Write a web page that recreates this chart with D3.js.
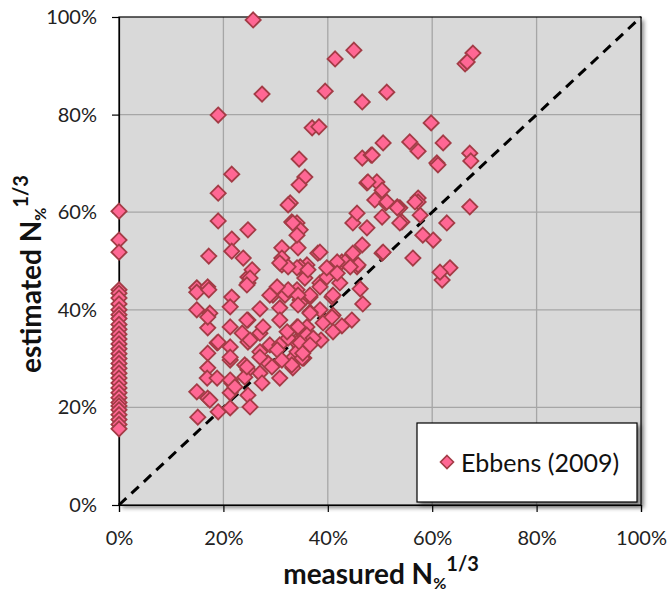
<!DOCTYPE html>
<html>
<head>
<meta charset="utf-8">
<script src="https://cdn.jsdelivr.net/npm/d3@7"></script>
<style>
  html, body { margin: 0; padding: 0; background: #fff; }
  svg { display: block; font-family: Lato, "Open Sans", sans-serif; }
</style>
</head>
<body>
<svg id="chart" width="671" height="596"></svg>
<script>
// Measured vs. estimated N% (cube-root transformed), in percent
const seriesName = "Ebbens (2009)";

const measured = [
  0, 0, 0, 0, 0, 0, 0, 0, 0, 0, 0, 0, 0, 0, 0, 0, 0, 0, 0, 0, 0, 0, 0, 0, 0, 0, 0, 0, 0, 0, 0, 0, 0,
  25.7, 27.4, 19.0, 39.5, 41.4, 45.0, 46.6, 51.3, 37.0, 38.3, 67.8, 66.3, 66.7,
  34.5, 35.6, 34.5, 21.6, 19.0, 46.6, 48.3, 50.6, 55.7, 57.3, 59.8, 62.1, 60.9, 61.1, 67.2, 67.4,
  47.5, 49.4, 50.4, 57.3,
  56.3, 61.9, 63.4, 61.5, 67.2, 62.8, 60.2, 58.2, 57.7, 57.3, 53.8, 54.2,
  50.4, 53.8, 53.3, 51.1, 47.5, 44.8, 45.6, 46.6, 50.4,
  46.2, 46.7, 44.6, 42.7, 41.0, 38.7, 35.4, 35.6, 38.5, 40.8, 45.6, 42.7, 40.6, 38.1, 35.6, 38.5,
  36.6, 34.7, 41.0, 34.7, 34.7, 36.0,
  32.8, 48.5, 47.7, 49.0, 51.3, 53.3, 56.7, 50.6, 44.8, 43.3, 38.5, 41.8, 34.1, 34.7, 34.3, 33.1,
  36.0, 34.7, 40.4, 45.8,
  39.8, 42.3, 33.3, 34.7, 36.6, 39.1, 34.1, 36.0, 34.1, 33.3, 41.0, 36.6, 34.1,
  19.0, 24.7, 21.6, 21.6, 23.8, 17.2, 32.4, 33.3, 34.1, 31.2, 31.2, 31.2, 34.1, 24.7, 24.7, 14.9, 17.0,
  14.9, 17.2, 21.6, 21.3, 14.9, 17.4, 17.0, 24.7, 27.0, 29.5, 31.8, 34.3, 30.8, 30.8, 34.3, 34.3,
  21.3, 23.6, 27.0, 24.7, 18.8, 17.0, 21.3, 21.3, 24.1, 27.0, 28.9, 30.8, 32.4, 28.5, 27.0, 24.7,
  30.8, 33.1, 34.1, 17.0, 16.9, 18.8, 14.9, 17.0, 21.6, 21.3, 24.1, 24.7, 25.1, 21.3, 19.0, 15.1,
  27.4, 35.1, 37.2, 40.8, 36.6, 32.4, 30.3, 28.9, 38.5, 39.8, 41.8, 44.3, 36.2, 32.4, 30.8,
  25.5, 25.1, 24.5, 17.0, 24.5, 27.6, 25.1, 19.0, 21.3, 17.4, 21.3, 24.5, 27.0, 30.3, 32.2, 34.7,
  29.3, 22.2, 31.2, 35.2, 36.6
];

const estimated = [
  60.2, 54.3, 51.8, 44.1, 43.4, 42.4, 41.2, 40.0, 39.0, 38.2, 37.0, 36.0, 35.0, 34.0, 33.0, 32.0, 31.0,
  30.0, 29.0, 28.0, 27.0, 26.0, 25.0, 24.0, 23.0, 22.0, 21.0, 20.3, 19.5, 18.5, 17.5, 16.5, 15.6,
  99.4, 84.2, 79.9, 84.8, 91.4, 93.2, 82.6, 84.6, 77.3, 77.5, 92.6, 90.4, 90.8,
  70.9, 67.2, 65.6, 67.8, 63.9, 71.1, 71.7, 74.2, 74.4, 72.5, 78.3, 74.2, 70.1, 69.7, 72.1, 70.5,
  66.0, 66.2, 64.5, 62.9,
  50.6, 46.1, 48.6, 47.7, 61.1, 57.8, 54.3, 55.3, 59.4, 62.1, 60.9, 58.0,
  59.0, 57.8, 61.1, 61.9, 56.8, 57.8, 59.8, 53.3, 51.6,
  44.3, 41.2, 37.9, 36.7, 35.5, 33.8, 30.1, 34.8, 40.0, 42.6, 48.8, 49.8, 48.2, 51.6, 46.5, 45.5,
  42.6, 42.0, 38.9, 34.4, 32.4, 36.5,
  61.9, 71.7, 66.2, 62.5, 62.1, 60.9, 62.1, 51.8, 51.6, 49.8, 51.8, 49.8, 57.8, 56.4, 52.7, 58.0,
  49.2, 48.8, 48.2, 49.2,
  46.7, 45.5, 28.1, 41.4, 39.5, 37.3, 36.5, 34.8, 33.2, 30.1, 43.0, 43.0, 44.1,
  58.2, 56.4, 54.5, 52.0, 50.6, 51.0, 61.5, 57.8, 55.3, 52.7, 50.6, 49.2, 48.6, 46.7, 45.5, 44.5, 44.7,
  43.6, 44.1, 42.6, 40.6, 40.0, 39.3, 36.3, 37.9, 40.2, 43.0, 43.0, 43.0, 40.4, 37.9, 41.0, 36.5,
  36.5, 35.2, 35.2, 33.4, 33.2, 31.1, 32.4, 29.7, 28.7, 31.4, 32.8, 32.8, 34.2, 29.1, 27.0, 27.7,
  26.0, 28.7, 31.4, 28.1, 26.0, 26.0, 23.2, 21.9, 25.0, 23.0, 26.2, 22.5, 20.1, 19.9, 19.1, 18.0,
  25.0, 30.1, 34.2, 38.5, 39.3, 44.1, 44.7, 43.0, 44.7, 48.6, 47.5, 48.8, 48.2, 48.8, 49.6,
  48.2, 46.5, 45.1, 38.5, 37.9, 36.5, 33.8, 33.4, 30.3, 21.5, 25.6, 28.3, 30.3, 31.8, 35.5, 33.2,
  28.3, 24.2, 29.7, 31.1, 32.8
];

const xTicks = [0, 20, 40, 60, 80, 100];
const yTicks = [0, 20, 40, 60, 80, 100];

const svg = d3.select("#chart");
const plot = { left: 119, top: 17, right: 641, bottom: 505 };

const x = d3.scaleLinear().domain([0, 100]).range([plot.left, plot.right]);
const y = d3.scaleLinear().domain([0, 100]).range([plot.bottom, plot.top]);

const defs = svg.append("defs");
const shadow = defs.append("filter").attr("id", "shadow")
  .attr("x", "-5%").attr("y", "-5%").attr("width", "115%").attr("height", "115%");
shadow.append("feDropShadow")
  .attr("dx", 3).attr("dy", 3).attr("stdDeviation", 2)
  .attr("flood-color", "#000").attr("flood-opacity", 0.45);

// plot background
svg.append("rect")
  .attr("x", plot.left).attr("y", plot.top)
  .attr("width", plot.right - plot.left).attr("height", plot.bottom - plot.top)
  .attr("fill", "#d9d9d9").attr("filter", "url(#shadow)");

// gridlines
const grid = svg.append("g").attr("stroke", "#a6a6a6").attr("stroke-width", 1.3);
grid.selectAll(".gx").data(xTicks.slice(1, -1)).join("line")
  .attr("x1", d => x(d)).attr("x2", d => x(d))
  .attr("y1", plot.top).attr("y2", plot.bottom);
grid.selectAll(".gy").data(yTicks.slice(1, -1)).join("line")
  .attr("y1", d => y(d)).attr("y2", d => y(d))
  .attr("x1", plot.left).attr("x2", plot.right);

// 1:1 reference line
svg.append("line")
  .attr("x1", x(0)).attr("y1", y(0)).attr("x2", x(100)).attr("y2", y(100))
  .attr("stroke", "#000").attr("stroke-width", 3)
  .attr("stroke-dasharray", "10,7");

// border
svg.append("rect")
  .attr("x", plot.left).attr("y", plot.top)
  .attr("width", plot.right - plot.left).attr("height", plot.bottom - plot.top)
  .attr("fill", "none").attr("stroke", "#000").attr("stroke-width", 1.2);

// axes
const fmt = d => d + "%";
const xAxis = svg.append("g").attr("transform", `translate(0,${plot.bottom})`)
  .call(d3.axisBottom(x).tickValues(xTicks).tickFormat(fmt).tickSizeOuter(0).tickSize(7).tickPadding(19));
const yAxis = svg.append("g").attr("transform", `translate(${plot.left},0)`)
  .call(d3.axisLeft(y).tickValues(yTicks).tickFormat(fmt).tickSizeOuter(0).tickSize(7).tickPadding(15));
[xAxis, yAxis].forEach(a => {
  a.select(".domain").attr("stroke", "#000").attr("stroke-width", 1.2);
  a.selectAll(".tick line").attr("stroke", "#000").attr("stroke-width", 1.2);
  a.selectAll(".tick text").attr("fill", "#222").style("font-size", "20px")
    .style("font-family", "Lato, sans-serif");
});

// points
const diamond = "M0,-7.6L7.6,0L0,7.6L-7.6,0Z";
const pts = measured.map((m, i) => ({ m, e: estimated[i] }));
svg.append("g").selectAll("path").data(pts).join("path")
  .attr("d", diamond)
  .attr("transform", d => `translate(${x(d.m)},${y(d.e)})`)
  .attr("fill", "#ff6794").attr("stroke", "#a33c46").attr("stroke-width", 1.8);

// legend
const lg = svg.append("g");
lg.append("rect").attr("x", 417).attr("y", 423).attr("width", 220).attr("height", 79)
  .attr("fill", "#fff").attr("stroke", "#000").attr("stroke-width", 1.2)
  .attr("filter", "url(#shadow)");
lg.append("path").attr("d", "M0,-6.5L6.5,0L0,6.5L-6.5,0Z")
  .attr("transform", "translate(447,462)")
  .attr("fill", "#ff6794").attr("stroke", "#a33c46").attr("stroke-width", 1.6);
lg.append("text").attr("x", 461).attr("y", 472).attr("fill", "#111")
  .style("font-size", "25px").text(seriesName);

// axis titles with sub/superscripts
function title(sel) {
  sel.attr("font-weight", "bold").attr("fill", "#111").style("font-size", "28px");
  sel.append("tspan").text(sel.datum().label + " N");
  sel.append("tspan").text("%").style("font-size", "16px").attr("dy", 5);
  sel.append("tspan").text("1/3").style("font-size", "20px").attr("dy", -18);
}
svg.append("text").datum({ label: "measured" })
  .attr("text-anchor", "middle").attr("x", 381).attr("y", 584).call(title);
svg.append("text").datum({ label: "estimated" })
  .attr("text-anchor", "middle")
  .attr("transform", "translate(41,274) rotate(-90)").call(title);
</script>
</body>
</html>
